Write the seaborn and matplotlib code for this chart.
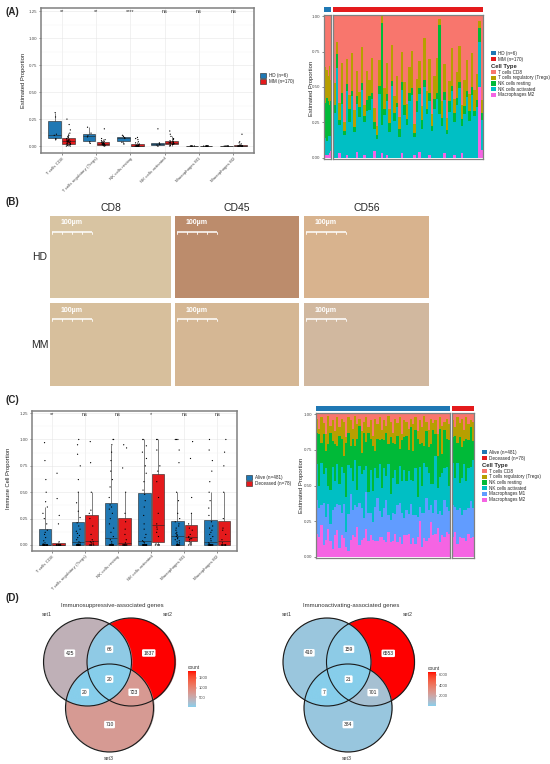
import numpy as np
import pandas as pd
import matplotlib
matplotlib.use('Agg')
import matplotlib.pyplot as plt
import seaborn as sns
from matplotlib.colors import ListedColormap, Normalize, to_rgb
from matplotlib.patches import Rectangle, Patch, Circle
from matplotlib.cm import ScalarMappable

sns.set_theme(style='white')
plt.rcParams['font.family'] = ['Liberation Sans', 'DejaVu Sans']

# ---------------- data ----------------
cell_types = ['T cells CD8', 'T cells regulatory (Tregs)', 'NK cells resting',
              'NK cells activated', 'Macrophages M1', 'Macrophages M2']
blue, red = '#1F78B4', '#E41A1C'
cell_colors = ['#F8766D', '#B79F00', '#00BA38', '#00BFC4', '#619CFF', '#F564E3']

# (A) left: HD vs MM estimated proportions
sig_a = ['**', '**', '****', 'ns', 'ns', 'ns']
labels_a = ['HD (n=6)', 'MM (n=170)']
hd_vals = [
    [0.06, 0.07, 0.10, 0.11, 0.27, 0.31],
    [0.025, 0.04, 0.085, 0.095, 0.12, 0.175],
    [0.02, 0.035, 0.07, 0.08, 0.09, 0.10],
    [0.0, 0.01, 0.015, 0.02, 0.03, 0.16],
    [0.0, 0.0, 0.0, 0.001, 0.001, 0.002],
    [0.0, 0.0, 0.0, 0.0, 0.001, 0.002],
]
mm_vals = [
    [0, 0, 0.005, 0.01, 0.015, 0.02, 0.02, 0.025, 0.03, 0.03, 0.035, 0.04, 0.04, 0.045,
     0.045, 0.05, 0.05, 0.055, 0.06, 0.065, 0.07, 0.08, 0.09, 0.1, 0.12, 0.15, 0.2, 0.25],
    [0, 0.005, 0.01, 0.01, 0.012, 0.015, 0.018, 0.02, 0.02, 0.022, 0.025, 0.028, 0.03,
     0.035, 0.04, 0.045, 0.05, 0.06, 0.07, 0.16],
    [0, 0, 0, 0, 0, 0, 0, 0, 0.002, 0.004, 0.006, 0.008, 0.01, 0.012, 0.02, 0.03, 0.04,
     0.06, 0.07, 0.08],
    [0, 0.005, 0.01, 0.015, 0.018, 0.02, 0.022, 0.025, 0.028, 0.03, 0.03, 0.032, 0.035,
     0.038, 0.04, 0.045, 0.05, 0.06, 0.07, 0.09, 0.11, 0.14],
    [0, 0, 0, 0, 0, 0, 0, 0, 0.001, 0.002],
    [0, 0, 0, 0, 0, 0, 0, 0, 0, 0, 0, 0, 0.005, 0.01, 0.02, 0.03, 0.04, 0.11],
]

# (A) right: per-sample fractions (CD8, Tregs, NK resting, NK activated, M2)
hd_cd8 = [0.40, 0.36, 0.38, 0.42, 0.35, 0.45]
hd_treg = [0.22, 0.25, 0.20, 0.18, 0.28, 0.15]
hd_nkrest = [0.28, 0.25, 0.30, 0.25, 0.22, 0.25]
hd_nkact = [0.08, 0.12, 0.10, 0.13, 0.12, 0.10]
hd_m2 = [0.02, 0.02, 0.02, 0.02, 0.03, 0.05]

mm_cd8 = [0.45, 0.18, 0.62, 0.35, 0.70, 0.30, 0.55, 0.25, 0.65, 0.40,
          0.52, 0.22, 0.60, 0.38, 0.48, 0.28, 0.66, 0.72, 0.30, 0.00,
          0.50, 0.33, 0.64, 0.20, 0.56, 0.40, 0.68, 0.26, 0.46, 0.58,
          0.36, 0.24, 0.74, 0.44, 0.32, 0.62, 0.15, 0.52, 0.30, 0.66,
          0.42, 0.28, 0.02, 0.58, 0.34, 0.70, 0.45, 0.22, 0.60, 0.38,
          0.20, 0.64, 0.44, 0.30, 0.55, 0.26, 0.50, 0.40, 0.03, 0.62]
mm_treg = [0.15, 0.08, 0.12, 0.22, 0.06, 0.18, 0.10, 0.26, 0.12, 0.18,
           0.10, 0.25, 0.08, 0.20, 0.12, 0.24, 0.10, 0.06, 0.18, 0.05,
           0.15, 0.22, 0.10, 0.25, 0.12, 0.18, 0.08, 0.22, 0.16, 0.10,
           0.18, 0.26, 0.06, 0.15, 0.20, 0.10, 0.30, 0.12, 0.24, 0.08,
           0.16, 0.24, 0.04, 0.12, 0.20, 0.08, 0.14, 0.26, 0.10, 0.18,
           0.25, 0.10, 0.18, 0.22, 0.12, 0.24, 0.14, 0.18, 0.05, 0.10]
mm_nkrest = [0.06, 0.10, 0.04, 0.08, 0.03, 0.05, 0.09, 0.04, 0.03, 0.06,
             0.07, 0.05, 0.04, 0.08, 0.10, 0.04, 0.05, 0.03, 0.06, 0.72,
             0.04, 0.05, 0.06, 0.04, 0.05, 0.03, 0.05, 0.06, 0.07, 0.04,
             0.06, 0.05, 0.03, 0.08, 0.04, 0.06, 0.05, 0.04, 0.06, 0.03,
             0.07, 0.04, 0.62, 0.05, 0.06, 0.03, 0.08, 0.04, 0.06, 0.05,
             0.04, 0.05, 0.06, 0.04, 0.07, 0.06, 0.04, 0.05, 0.10, 0.05]
mm_nkact = [0.30, 0.62, 0.20, 0.40, 0.15, 0.45, 0.25, 0.42, 0.18, 0.35,
            0.28, 0.48, 0.22, 0.32, 0.36, 0.40, 0.16, 0.12, 0.44, 0.20,
            0.30, 0.38, 0.18, 0.50, 0.26, 0.34, 0.14, 0.46, 0.30, 0.22,
            0.40, 0.44, 0.12, 0.32, 0.42, 0.20, 0.50, 0.30, 0.38, 0.18,
            0.34, 0.40, 0.30, 0.22, 0.38, 0.16, 0.32, 0.46, 0.24, 0.36,
            0.48, 0.20, 0.30, 0.42, 0.26, 0.44, 0.28, 0.35, 0.32, 0.22]
mm_m2 = [0, 0, 0.03, 0, 0, 0.02, 0, 0, 0, 0.04,
         0, 0, 0.02, 0, 0, 0, 0.05, 0, 0, 0.03,
         0, 0.02, 0, 0, 0, 0, 0, 0.03, 0, 0,
         0, 0, 0.02, 0, 0.04, 0, 0, 0, 0.02, 0,
         0, 0, 0, 0, 0.03, 0, 0, 0, 0.02, 0,
         0, 0.03, 0, 0, 0, 0, 0, 0, 0.50, 0.06]

# (B) IHC panels
ihc_markers = ['CD8', 'CD45', 'CD56']
ihc_groups = ['HD', 'MM']
ihc_colors = [['#D8C4A2', '#BC8C6C', '#D8B38E'],
              ['#D7BF9C', '#D5B794', '#D1B89F']]

# (C) left: Alive vs Deceased
sig_c = ['**', 'ns', 'ns', '*', 'ns', 'ns']
labels_c = ['Alive (n=481)', 'Deceased (n=78)']
alive_vals = [
    [0] * 20 + [0.01, 0.02, 0.04, 0.07, 0.1, 0.12, 0.14, 0.2, 0.25, 0.3, 0.36, 0.41,
                0.5, 0.62, 0.8, 0.97],
    [0] * 16 + [0.01, 0.02, 0.03, 0.05, 0.07, 0.09, 0.11, 0.13, 0.15, 0.18, 0.21, 0.26,
                0.32, 0.4, 0.5, 0.62, 0.75, 0.86, 0.95, 1.0],
    [0] * 15 + [0.01, 0.03, 0.05, 0.08, 0.12, 0.16, 0.2, 0.25, 0.3, 0.34, 0.36, 0.38,
                0.45, 0.55, 0.62, 0.7, 0.8, 0.88, 0.95, 1.0, 1.0],
    [0] * 16 + [0.02, 0.03, 0.04, 0.07, 0.1, 0.15, 0.2, 0.28, 0.36, 0.42, 0.48, 0.52,
                0.6, 0.68, 0.75, 0.82, 0.88, 0.94, 1.0, 1.0],
    [0] * 10 + [0.01, 0.02, 0.03, 0.04, 0.05, 0.06, 0.07, 0.08, 0.09, 0.1, 0.11, 0.12,
                0.14, 0.16, 0.18, 0.2, 0.22, 0.25, 0.3, 0.42, 0.5, 0.78, 0.9, 1.0, 1.0, 1.0],
    [0] * 16 + [0.01, 0.02, 0.04, 0.06, 0.08, 0.1, 0.12, 0.14, 0.16, 0.18, 0.22, 0.28,
                0.35, 0.42, 0.5, 0.6, 0.7, 0.8, 0.9, 1.0],
]
dead_vals = [
    [0] * 13 + [0.03, 0.2, 0.28, 0.44, 0.68],
    [0, 0, 0, 0, 0, 0.01, 0.02, 0.03, 0.03, 0.05, 0.1, 0.18, 0.25, 0.3, 0.33, 0.5, 0.78, 0.98],
    [0] * 9 + [0.02, 0.05, 0.1, 0.15, 0.22, 0.3, 0.5, 0.73, 0.92, 0.95],
    [0, 0, 0, 0, 0.01, 0.08, 0.12, 0.15, 0.17, 0.2, 0.3, 0.45, 0.6, 0.7, 0.75, 0.9, 1.0, 1.0],
    [0, 0, 0.01, 0.02, 0.03, 0.05, 0.06, 0.06, 0.07, 0.08, 0.1, 0.14, 0.16, 0.2, 0.3, 0.45,
     0.82, 0.98],
    [0] * 8 + [0.02, 0.05, 0.1, 0.14, 0.16, 0.25, 0.5, 0.75, 0.88, 1.0],
]

# (C) right: per-sample fractions (6 cell types)
al_cd8 = [0.03, 0.10, 0.02, 0.06, 0.14, 0.01, 0.08, 0.04, 0.12, 0.02,
          0.09, 0.03, 0.05, 0.16, 0.02, 0.04, 0.10, 0.01, 0.07, 0.03,
          0.12, 0.05, 0.02, 0.09, 0.04, 0.15, 0.03, 0.07, 0.02, 0.11,
          0.04, 0.08, 0.01, 0.05, 0.13, 0.03, 0.06, 0.02, 0.14, 0.04,
          0.05, 0.10, 0.03, 0.07, 0.02, 0.12, 0.04, 0.09, 0.01, 0.05,
          0.11, 0.03, 0.06, 0.04, 0.14, 0.02, 0.08, 0.05, 0.03, 0.07]
al_treg = [0.10, 0.04, 0.18, 0.08, 0.12, 0.22, 0.05, 0.15, 0.09, 0.20,
           0.06, 0.14, 0.24, 0.04, 0.11, 0.18, 0.07, 0.21, 0.10, 0.05,
           0.15, 0.08, 0.19, 0.04, 0.13, 0.07, 0.23, 0.10, 0.16, 0.06,
           0.14, 0.05, 0.20, 0.11, 0.07, 0.18, 0.09, 0.22, 0.04, 0.12,
           0.10, 0.15, 0.06, 0.19, 0.09, 0.05, 0.17, 0.11, 0.21, 0.07,
           0.12, 0.18, 0.05, 0.10, 0.15, 0.08, 0.20, 0.06, 0.14, 0.11]
al_nkrest = [0.22, 0.36, 0.14, 0.28, 0.12, 0.32, 0.40, 0.18, 0.26, 0.13,
             0.34, 0.20, 0.12, 0.38, 0.23, 0.16, 0.30, 0.10, 0.36, 0.28,
             0.15, 0.26, 0.18, 0.42, 0.22, 0.32, 0.12, 0.28, 0.17, 0.35,
             0.20, 0.30, 0.14, 0.40, 0.25, 0.18, 0.34, 0.12, 0.29, 0.23,
             0.32, 0.15, 0.37, 0.21, 0.27, 0.41, 0.16, 0.30, 0.12, 0.25,
             0.18, 0.28, 0.38, 0.15, 0.23, 0.34, 0.13, 0.27, 0.20, 0.32]
al_nkact = [0.25, 0.16, 0.30, 0.20, 0.34, 0.14, 0.24, 0.30, 0.18, 0.28,
            0.15, 0.32, 0.22, 0.25, 0.35, 0.18, 0.20, 0.32, 0.12, 0.26,
            0.24, 0.34, 0.20, 0.15, 0.30, 0.22, 0.27, 0.14, 0.33, 0.20,
            0.28, 0.17, 0.36, 0.18, 0.24, 0.31, 0.15, 0.26, 0.22, 0.34,
            0.20, 0.30, 0.17, 0.24, 0.33, 0.14, 0.28, 0.19, 0.35, 0.22,
            0.26, 0.15, 0.20, 0.31, 0.18, 0.24, 0.30, 0.22, 0.28, 0.18]
al_m1 = [0.24, 0.20, 0.14, 0.30, 0.16, 0.20, 0.12, 0.28, 0.20, 0.18,
         0.30, 0.16, 0.24, 0.10, 0.26, 0.32, 0.18, 0.22, 0.14, 0.30,
         0.22, 0.14, 0.28, 0.20, 0.16, 0.12, 0.24, 0.30, 0.18, 0.14,
         0.22, 0.30, 0.12, 0.16, 0.20, 0.14, 0.26, 0.24, 0.22, 0.12,
         0.18, 0.14, 0.28, 0.16, 0.20, 0.14, 0.10, 0.24, 0.18, 0.30,
         0.20, 0.12, 0.16, 0.24, 0.10, 0.22, 0.14, 0.26, 0.18, 0.16]
al_m2 = [0.16, 0.14, 0.22, 0.08, 0.12, 0.21, 0.11, 0.05, 0.15, 0.19,
         0.06, 0.15, 0.13, 0.07, 0.04, 0.12, 0.15, 0.14, 0.21, 0.08,
         0.12, 0.13, 0.21, 0.11, 0.15, 0.12, 0.11, 0.11, 0.14, 0.14,
         0.12, 0.10, 0.17, 0.10, 0.11, 0.16, 0.10, 0.14, 0.09, 0.15,
         0.15, 0.16, 0.09, 0.13, 0.09, 0.14, 0.25, 0.07, 0.13, 0.11,
         0.13, 0.24, 0.15, 0.16, 0.20, 0.10, 0.15, 0.14, 0.17, 0.16]
de_cd8 = [0.04, 0.09, 0.02, 0.06, 0.03, 0.11, 0.02, 0.07, 0.04, 0.05]
de_treg = [0.12, 0.06, 0.18, 0.10, 0.20, 0.08, 0.15, 0.11, 0.05, 0.14]
de_nkrest = [0.18, 0.30, 0.14, 0.32, 0.22, 0.16, 0.30, 0.20, 0.28, 0.13]
de_nkact = [0.30, 0.20, 0.33, 0.18, 0.26, 0.32, 0.20, 0.28, 0.24, 0.34]
de_m1 = [0.22, 0.18, 0.24, 0.20, 0.16, 0.20, 0.22, 0.18, 0.26, 0.20]
de_m2 = [0.14, 0.17, 0.09, 0.14, 0.13, 0.13, 0.11, 0.16, 0.13, 0.14]

# (D) Venn counts: set1 only, set2 only, set3 only, 1&2, 1&3, 2&3, 1&2&3
venn_supp = [425, 1837, 710, 66, 20, 723, 20]
venn_act = [410, 6553, 384, 159, 7, 701, 21]
venn_titles = ['Immunosuppressive-associated genes', 'Immunoactivating-associated genes']

# ---------------- layout helpers ----------------
W, H = 550, 764
fig = plt.figure(figsize=(W / 100, H / 100), dpi=100)
fig.patch.set_facecolor('white')

cv = fig.add_axes([0, 0, 1, 1])
cv.set_xlim(0, W)
cv.set_ylim(H, 0)
cv.axis('off')


def px_axes(x0, y0, x1, y1):
    return fig.add_axes([x0 / W, 1 - y1 / H, (x1 - x0) / W, (y1 - y0) / H])


def long_df(groups, labels):
    rows = []
    for vals_by_cell, lab in zip(groups, labels):
        for cell, vals in zip(cell_types, vals_by_cell):
            rows += [(cell, lab, v) for v in vals]
    return pd.DataFrame(rows, columns=['cell', 'group', 'value'])


def gg_frame(ax, lw=1.1):
    for s in ax.spines.values():
        s.set_visible(True)
        s.set_color('#808080')
        s.set_linewidth(lw)


def yticks_fmt(ax, ticks):
    ax.set_yticks(ticks)
    ax.set_yticklabels([f'{t:.2f}' for t in ticks], fontsize=3.2, color='#4d4d4d')
    ax.tick_params(axis='y', left=True, length=1.5, width=0.4, pad=1, color='#333333')


def box_panel(ax, df, labels, sig, ylim, ytop):
    sns.boxplot(data=df, x='cell', y='value', hue='group', order=cell_types,
                hue_order=labels, palette=[blue, red], width=0.8, gap=0.08,
                showfliers=False, showcaps=False, linewidth=0.4, linecolor='#222222',
                saturation=1, legend=False, ax=ax)
    sns.stripplot(data=df, x='cell', y='value', hue='group', order=cell_types,
                  hue_order=labels, palette=['black', 'black'], dodge=True, jitter=0.14,
                  size=0.9, legend=False, ax=ax)
    ax.set_xlim(-0.6, 5.6)
    ax.set_ylim(*ylim)
    yticks_fmt(ax, [0, 0.25, 0.5, 0.75, 1.0, 1.25])
    ax.set_yticks([0.125, 0.375, 0.625, 0.875, 1.125], minor=True)
    ax.set_axisbelow(True)
    ax.grid(True, which='major', color='#e6e6e6', lw=0.4)
    ax.grid(True, which='minor', axis='y', color='#f3f3f3', lw=0.3)
    ax.tick_params(which='minor', length=0)
    ax.set_xticks(range(len(cell_types)))
    ax.set_xticklabels(cell_types, rotation=45, ha='right', rotation_mode='anchor',
                       fontsize=3.2, color='#4d4d4d')
    ax.tick_params(axis='x', bottom=True, length=1.5, width=0.4, pad=1, color='#333333')
    ax.set_xlabel('')
    ax.set_ylabel('')
    for i, s in enumerate(sig):
        ax.text(i, ytop, s, ha='center', va='center', fontsize=4, color='#333333')
    gg_frame(ax)


def stack_panel(ax, fracs, colors, show_y):
    arr = np.array(fracs, dtype=float)
    arr = arr / arr.sum(axis=0)
    n = arr.shape[1]
    cum = np.cumsum(arr[::-1], axis=0)[::-1]
    for k in range(arr.shape[0]):
        sns.barplot(x=np.arange(n), y=cum[k], color=colors[k], width=1.0, saturation=1,
                    errorbar=None, linewidth=0, ax=ax)
    ax.set_xlim(-0.5, n - 0.5)
    ax.set_ylim(-0.01, 1.01)
    ax.set_xticks([])
    ax.set_xlabel('')
    ax.set_ylabel('')
    if show_y:
        yticks_fmt(ax, [0, 0.25, 0.5, 0.75, 1.0])
    else:
        ax.set_yticks([])
    gg_frame(ax, lw=0.9)


def strip(x0, y0, x1, y1, color):
    s = px_axes(x0, y0, x1, y1)
    s.set_facecolor(color)
    s.set_xticks([])
    s.set_yticks([])
    for sp in s.spines.values():
        sp.set_visible(False)


def legend_at(x, y, labels, colors, edge='none', title=None, size=1.0):
    handles = [Patch(facecolor=c, edgecolor=edge, linewidth=0.4) for c in colors]
    fig.legend(handles, labels, loc='upper left', bbox_to_anchor=(x / W, 1 - y / H),
               frameon=False, fontsize=3.3, handlelength=size, handleheight=size,
               handletextpad=0.5, labelspacing=0.15, borderaxespad=0, borderpad=0,
               title=title, title_fontproperties={'weight': 'bold', 'size': 4.2},
               alignment='left')


def ylabel_at(x, y, text):
    cv.text(x, y, text, rotation=90, ha='center', va='center', fontsize=4.2, color='#222222')


# ---------------- panel labels ----------------
for lab, y in [('(A)', 12), ('(B)', 202), ('(C)', 400), ('(D)', 598)]:
    cv.text(6, y, lab, fontsize=7, fontweight='bold', va='center', ha='left')

# ---------------- (A) left ----------------
df_a = long_df([hd_vals, mm_vals], labels_a)
ax = px_axes(41, 8, 254, 153)
box_panel(ax, df_a, labels_a, sig_a, (-0.064, 1.28), 1.25)
ylabel_at(24, 80, 'Estimated Proportion')
legend_at(260, 73, labels_a, [blue, red], edge='#222222', size=1.4)

# ---------------- (A) right ----------------
a_idx = (0, 1, 2, 3, 5)
ax_hd = px_axes(324, 15, 331, 159)
stack_panel(ax_hd, [hd_cd8, hd_treg, hd_nkrest, hd_nkact, hd_m2],
            [cell_colors[i] for i in a_idx], True)
ax_mm = px_axes(333, 15, 483, 159)
stack_panel(ax_mm, [mm_cd8, mm_treg, mm_nkrest, mm_nkact, mm_m2],
            [cell_colors[i] for i in a_idx], False)
strip(324, 7, 331, 12, blue)
strip(333, 7, 483, 12, red)
ylabel_at(311, 88, 'Estimated Proportion')
legend_at(491, 51, labels_a, [blue, red])
legend_at(491, 64, [cell_types[i] for i in a_idx], [cell_colors[i] for i in a_idx],
          title='Cell Type')

# ---------------- (B) IHC ----------------
col_x = [(50, 171), (175, 299), (304, 429)]
row_y = [(216, 298), (303, 386)]
for j, m in enumerate(ihc_markers):
    cv.text((col_x[j][0] + col_x[j][1]) / 2, 208, m, ha='center', va='center', fontsize=7.5)
for i, g in enumerate(ihc_groups):
    cv.text(40, (row_y[i][0] + row_y[i][1]) / 2, g, ha='center', va='center', fontsize=7.5)
    for j in range(len(ihc_markers)):
        x0, x1 = col_x[j]
        y0, y1 = row_y[i]
        cv.add_patch(Rectangle((x0, y0), x1 - x0, y1 - y0, facecolor=ihc_colors[i][j],
                               edgecolor='none'))
        by = y0 + 16
        cv.plot([x0 + 2, x0 + 42], [by, by], color='white', lw=1.1, solid_capstyle='butt')
        for t in range(5):
            tx = x0 + 2 + t * 10
            cv.plot([tx, tx], [by, by + 2], color='white', lw=0.6)
        cv.text(x0 + 22, y0 + 7, '100µm', color='white', fontsize=5, fontweight='bold',
                ha='center', va='center')

# ---------------- (C) left ----------------
df_c = long_df([alive_vals, dead_vals], labels_c)
ax = px_axes(32, 411, 237, 551)
box_panel(ax, df_c, labels_c, sig_c, (-0.057, 1.27), 1.24)
ylabel_at(9, 478, 'Immune Cell Proportion')
legend_at(246, 475, labels_c, [blue, red], edge='#222222', size=1.4)

# ---------------- (C) right ----------------
ax_al = px_axes(316, 413, 450, 558)
stack_panel(ax_al, [al_cd8, al_treg, al_nkrest, al_nkact, al_m1, al_m2], cell_colors, True)
ax_de = px_axes(452, 413, 474, 558)
stack_panel(ax_de, [de_cd8, de_treg, de_nkrest, de_nkact, de_m1, de_m2], cell_colors, False)
strip(316, 406, 450, 411, blue)
strip(452, 406, 474, 411, red)
ylabel_at(302, 485, 'Estimated Proportion')
legend_at(482, 450, labels_c, [blue, red])
legend_at(482, 463, cell_types, cell_colors, title='Cell Type')


# ---------------- (D) Venn ----------------
# gradient interpolated in CIELAB (like ggplot2's scale_fill_gradient)
M_RGB = np.array([[0.4124, 0.3576, 0.1805], [0.2126, 0.7152, 0.0722],
                  [0.0193, 0.1192, 0.9505]])
WHITE = np.array([0.95047, 1.0, 1.08883])


def to_lab(c):
    c = np.asarray(to_rgb(c))
    lin = np.where(c <= 0.04045, c / 12.92, ((c + 0.055) / 1.055) ** 2.4)
    xyz = M_RGB @ lin / WHITE
    f = np.where(xyz > 0.008856, np.cbrt(xyz), 7.787 * xyz + 16 / 116)
    return np.array([116 * f[1] - 16, 500 * (f[0] - f[1]), 200 * (f[1] - f[2])])


def from_lab(lab):
    fy = (lab[0] + 16) / 116
    f = np.array([fy + lab[1] / 500, fy, fy - lab[2] / 200])
    xyz = np.where(f ** 3 > 0.008856, f ** 3, (f - 16 / 116) / 7.787) * WHITE
    lin = np.clip(np.linalg.solve(M_RGB, xyz), 0, None)
    c = np.where(lin <= 0.0031308, 12.92 * lin, 1.055 * lin ** (1 / 2.4) - 0.055)
    return np.clip(c, 0, 1)


lab_lo, lab_hi = to_lab('#87CEEB'), to_lab('#FF0000')
venn_cmap = ListedColormap([from_lab(lab_lo + t * (lab_hi - lab_lo))
                            for t in np.linspace(0, 1, 256)])


def venn(cx, cy, r, counts, title, tx, name_pos, cbar_box, cbar_ticks):
    xs = np.linspace(min(cx) - r - 2, max(cx) + r + 2, 700)
    ys = np.linspace(min(cy) - r - 2, max(cy) + r + 2, 700)
    X, Y = np.meshgrid(xs, ys)
    ins = [(X - a) ** 2 + (Y - b) ** 2 <= r ** 2 for a, b in zip(cx, cy)]
    code = ins[0] * 1 + ins[1] * 2 + ins[2] * 4
    norm = Normalize(min(counts), max(counts))
    img = np.zeros(X.shape + (4,))
    for c, n in zip([1, 2, 4, 3, 5, 6, 7], counts):
        m = code == c
        img[m] = venn_cmap(norm(n))
        cv.text(X[m].mean(), Y[m].mean(), str(n), ha='center', va='center', fontsize=3.6,
                color='#222222', bbox=dict(boxstyle='round,pad=0.25', fc='white', ec='none'))
    cv.imshow(img, extent=(xs[0], xs[-1], ys[-1], ys[0]), origin='upper', aspect='auto',
              interpolation='bilinear')
    for a, b in zip(cx, cy):
        cv.add_patch(Circle((a, b), r, fill=False, ec='#1a1a1a', lw=0.8))
    cv.text(tx, 605, title, ha='center', va='center', fontsize=4.3, color='#333333')
    for (nx, ny), nm in zip(name_pos, ['set1', 'set2', 'set3']):
        cv.text(nx, ny, nm, ha='center', va='center', fontsize=3.8, color='#333333')
    cax = px_axes(*cbar_box)
    cb = fig.colorbar(ScalarMappable(norm=norm, cmap=venn_cmap), cax=cax)
    cb.outline.set_visible(False)
    cb.set_ticks(cbar_ticks)
    cb.ax.tick_params(labelsize=3, length=1, width=0.3, pad=1, colors='#4d4d4d')
    cax.set_title('count', fontsize=3.5, loc='left', pad=1.5, color='#333333')


venn([87.5, 131, 109.5], [662, 662, 708], 44, venn_supp, venn_titles[0], 112,
     [(47, 614), (168, 614), (109, 758)], (188, 671, 196, 707), [500, 1000, 1500])
venn([327, 370.5, 348], [662, 662, 708], 44, venn_act, venn_titles[1], 351,
     [(287, 614), (408, 614), (347, 758)], (428, 672, 436, 706), [2000, 4000, 6000])

cv.set_xlim(0, W)
cv.set_ylim(H, 0)

fig.savefig('out.png', dpi=100, facecolor='white')
